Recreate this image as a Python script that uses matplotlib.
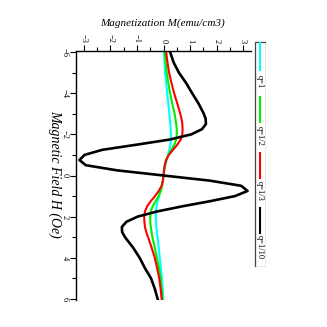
import matplotlib
matplotlib.use("Agg")
import matplotlib.pyplot as plt
from matplotlib.patches import Rectangle

# Magnetic field H (Oe) sample positions
H = [-6, -5.5, -5, -4.5, -4, -3.5, -3, -2.75, -2.5, -2.25, -2, -1.75, -1.5, -1.25,
     -1, -0.75, -0.5, -0.25, 0, 0.25, 0.5, 0.75, 1, 1.25, 1.5, 1.75, 2, 2.25,
     2.5, 2.75, 3, 3.5, 4, 4.5, 5, 5.5, 6]

# Magnetization M (emu/cm3) for each q
m_q1 = [0.02, 0.04, 0.06, 0.10, 0.14, 0.18, 0.22, 0.24, 0.26, 0.27, 0.28, 0.28, 0.26, 0.22,
        0.17, 0.12, 0.07, 0.03, 0.0, -0.03, -0.07, -0.12, -0.17, -0.22, -0.26, -0.28, -0.29, -0.28,
        -0.27, -0.25, -0.22, -0.18, -0.14, -0.10, -0.06, -0.03, -0.01]
m_q2 = [0.05, 0.08, 0.12, 0.18, 0.25, 0.33, 0.42, 0.45, 0.48, 0.50, 0.50, 0.48, 0.41, 0.30,
        0.18, 0.10, 0.05, 0.02, 0.0, -0.02, -0.05, -0.10, -0.18, -0.30, -0.41, -0.48, -0.50, -0.50,
        -0.48, -0.45, -0.42, -0.33, -0.25, -0.17, -0.11, -0.07, -0.04]
m_q3 = [0.10, 0.15, 0.21, 0.30, 0.40, 0.52, 0.63, 0.68, 0.71, 0.72, 0.71, 0.65, 0.52, 0.36,
        0.20, 0.10, 0.05, 0.02, 0.0, -0.02, -0.07, -0.18, -0.32, -0.48, -0.62, -0.70, -0.73, -0.72,
        -0.70, -0.65, -0.58, -0.45, -0.33, -0.24, -0.16, -0.11, -0.07]
m_q10 = [0.25, 0.38, 0.58, 0.85, 1.08, 1.32, 1.52, 1.59, 1.60, 1.45, 1.05, 0.25, -1.00, -2.30,
         -2.98, -3.17, -2.93, -1.75, 0.0, 1.75, 2.93, 3.17, 2.70, 1.75, 0.70, -0.25, -0.98, -1.40,
         -1.57, -1.56, -1.45, -1.15, -0.90, -0.70, -0.47, -0.33, -0.22]

series = [m_q1, m_q2, m_q3, m_q10]
labels = ["q=1", "q=1/2", "q=1/3", "q=1/10"]
colors = ["#00ffff", "#00ee00", "#ff0000", "#000000"]
widths = [1.5, 1.5, 1.5, 1.9]

M_ticks = [-3, -2, -1, 0, 1, 2, 3]
H_ticks = [-6, -4, -2, 0, 2, 4, 6]

serif = "Liberation Serif"
W = H_PX = 327
fig = plt.figure(figsize=(3.27, 3.27), dpi=100)

# Main axes (chart drawn rotated: H vertical, M horizontal)
ax = fig.add_axes([76 / W, 1 - 300 / H_PX, (251 - 76) / W, (300 - 51) / H_PX])
for m, c, lw in zip(series, colors, widths):
    ax.plot(m, H, color=c, lw=lw, solid_joinstyle="round")

ax.set_xlim(-3.3, 3.3)
ax.set_ylim(6.05, -6.05)
ax.spines["right"].set_visible(False)
ax.spines["bottom"].set_visible(False)
ax.spines["top"].set_linewidth(1.0)
ax.spines["left"].set_linewidth(1.0)
ax.xaxis.tick_top()
ax.set_xticks(M_ticks)
ax.set_xticks([v + 0.5 for v in M_ticks[:-1]], minor=True)
ax.set_yticks(H_ticks)
ax.set_yticks([v + 1 for v in H_ticks[:-1]], minor=True)
ax.set_xticklabels(["\u22123", "\u22122", "\u22121", "0", "1", "2", "3"])
ax.set_yticklabels(["\u22126", "\u22124", "\u22122", "0", "2", "4", "6"])
ax.tick_params(which="major", length=4, width=0.8, direction="out", labelsize=6, pad=1.5)
ax.tick_params(which="minor", length=3, width=0.8, direction="out")
for t in ax.get_xticklabels():
    t.set_rotation(270)
    t.set_family(serif)
for t in ax.get_yticklabels():
    t.set_rotation(270)
    t.set_family(serif)
    t.set_va("center")

fig.text(163 / W, 1 - 23 / H_PX, "Magnetization M(emu/cm3)", ha="center", va="center",
         family=serif, style="italic", fontsize=8)
fig.text(55 / W, 1 - 174 / H_PX, "Magnetic Field H (Oe)", ha="center", va="center",
         family=serif, style="italic", fontsize=10, rotation=270)

# Legend (rotated), drawn in a helper axes in pixel coordinates
lax = fig.add_axes([254 / W, 1 - 267 / H_PX, 12 / W, 226 / H_PX])
lax.set_xlim(254, 266)
lax.set_ylim(267, 41)
lax.axis("off")
lax.add_patch(Rectangle((254.5, 41.5), 11, 225, fill=False, ec="#444444", lw=0.9))
entries = [(43, 70, 82), (97, 122, 136), (153, 178, 191), (208, 233, 247)]
for (y0, y1, ty), lab, c in zip(entries, labels, colors):
    lax.plot([260, 260], [y0, y1], color=c, lw=1.5)
    lax.text(260, ty, lab, rotation=270, ha="center", va="center", family=serif, fontsize=6)

fig.savefig("out.png", dpi=100)
